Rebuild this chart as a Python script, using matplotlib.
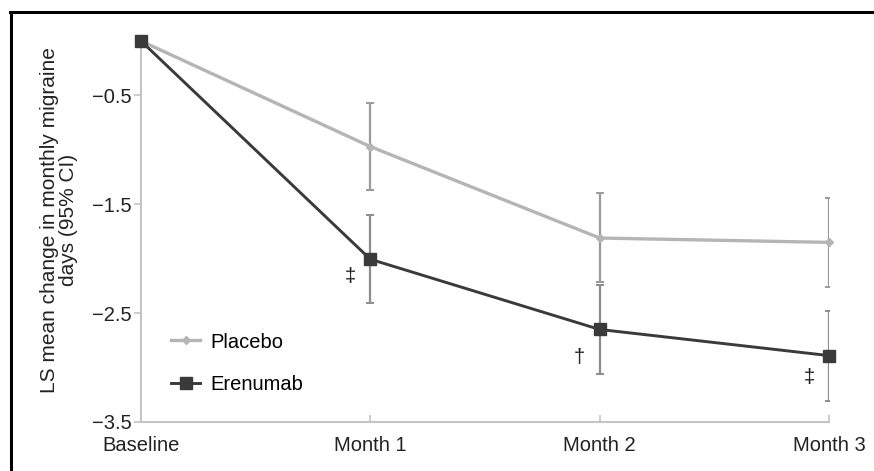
import matplotlib
matplotlib.use("Agg")
import matplotlib.pyplot as plt
from matplotlib.lines import Line2D

categories = ["Baseline", "Month 1", "Month 2", "Month 3"]
placebo = [0.0, -0.97, -1.81, -1.85]
placebo_lo = [0.0, -1.365, -2.21, -2.26]
placebo_hi = [0.0, -0.57, -1.40, -1.44]
erenumab = [0.0, -2.005, -2.65, -2.89]
erenumab_lo = [0.0, -2.405, -3.06, -3.31]
erenumab_hi = [0.0, -1.60, -2.24, -2.48]
yticks = [-3.5, -2.5, -1.5, -0.5]
sig_marks = ["", "‡", "†", "‡"]
sig_y = [0.0, -2.16, -2.91, -3.09]

plt.rcParams['font.family'] = ['Liberation Sans', 'DejaVu Sans']
FS = 14.5

fig = plt.figure(figsize=(8.74, 4.71), dpi=100)
ax = fig.add_axes([141/874, 1-422/471, (829-141)/874, (422-41)/471])

x = list(range(len(categories)))
pc = "#b5b5b5"
ec = "#3a3a3a"
errc = "#9a9a9a"

for i in x[1:]:
    ax.errorbar(i, placebo[i], yerr=[[placebo[i]-placebo_lo[i]], [placebo_hi[i]-placebo[i]]],
                fmt='none', ecolor=errc, elinewidth=1.6, capsize=3, capthick=1.4, zorder=2)
    ax.errorbar(i, erenumab[i], yerr=[[erenumab[i]-erenumab_lo[i]], [erenumab_hi[i]-erenumab[i]]],
                fmt='none', ecolor="#8c8c8c", elinewidth=1.6, capsize=3, capthick=1.4, zorder=2)

ax.plot(x, placebo, color=pc, lw=2.4, marker='D', markersize=4.5, markerfacecolor=pc,
        markeredgecolor=pc, zorder=3, clip_on=False)
ax.plot(x, erenumab, color=ec, lw=2.1, marker='s', markersize=8, markerfacecolor=ec,
        markeredgecolor=ec, zorder=4, clip_on=False)

for i, (m, yv) in enumerate(zip(sig_marks, sig_y)):
    if m:
        ax.text(i - 0.088, yv, m, ha='center', va='center', fontsize=FS, color="#222222")

ax.set_xlim(0, 3)
ax.set_ylim(-3.5, 0)
ax.set_yticks(yticks)
ax.set_yticklabels([("\u2212" + f"{abs(v):.1f}") for v in yticks])
ax.set_xticks(x)
ax.set_xticklabels(categories)
for s in ['top', 'right']:
    ax.spines[s].set_visible(False)
for s in ['left', 'bottom']:
    ax.spines[s].set_color("#c4c4c4")
    ax.spines[s].set_linewidth(1.5)
ax.tick_params(axis='y', direction='out', length=5, color="#c4c4c4", width=1.2,
               labelsize=FS, labelcolor="#222222", pad=2)
ax.tick_params(axis='x', direction='in', length=5, color="#c4c4c4", width=1.2,
               labelsize=FS, labelcolor="#222222", pad=10)

ax.set_ylabel("LS mean change in monthly migraine\ndays (95% CI)", fontsize=FS + 0.5,
              color="#222222", linespacing=1.0)
ax.yaxis.set_label_coords(-0.091, 0.53)

handles = [Line2D([], [], color=pc, lw=2.4, marker='D', markersize=4.5),
           Line2D([], [], color=ec, lw=2.1, marker='s', markersize=8)]
ax.legend(handles, ["Placebo", "Erenumab"], loc='upper left',
          bbox_to_anchor=(0.032, 0.256), frameon=False, fontsize=FS,
          handlelength=1.45, labelspacing=1.15, handletextpad=0.5, borderaxespad=0)

fig.add_artist(Line2D([10/874, 1.0], [1-12/471, 1-12/471], transform=fig.transFigure,
                      color='black', lw=2.2))
fig.add_artist(Line2D([11/874, 11/874], [0, 1-12/471], transform=fig.transFigure,
                      color='black', lw=2.2))

fig.savefig("out.png", dpi=100)
